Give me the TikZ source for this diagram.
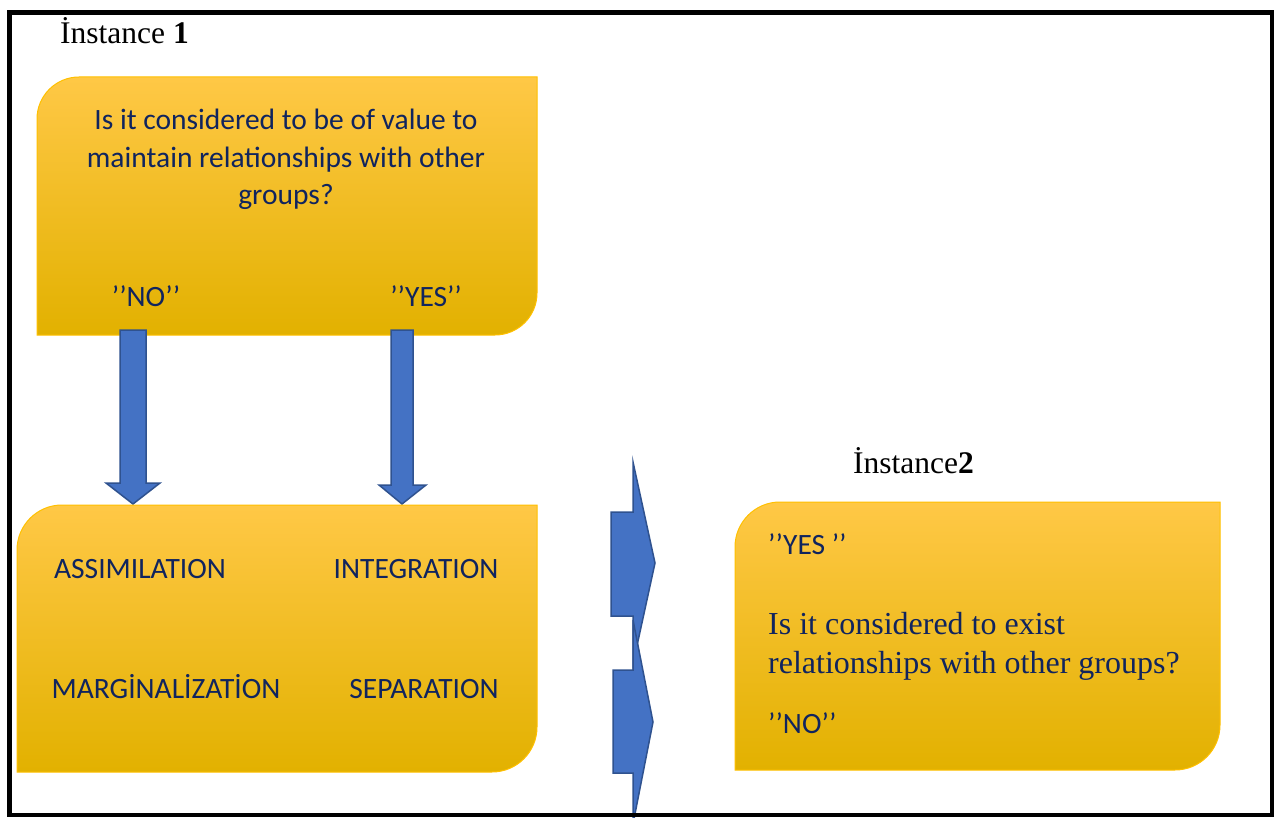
\documentclass[tikz,border=0pt]{standalone}
\usepackage{fontspec}
\setmainfont{Liberation Serif}
\newfontfamily\calfont{Carlito}
\definecolor{navy}{RGB}{16,36,94}
\definecolor{ytop}{RGB}{255,200,70}
\definecolor{ymid}{RGB}{255,192,0}
\definecolor{ybot}{RGB}{226,177,0}
\definecolor{yline}{RGB}{255,192,0}
\definecolor{bfill}{RGB}{68,114,196}
\definecolor{bline}{RGB}{47,82,143}
% box with rounded top-left and bottom-right corners: x1 y1 x2 y2 R
\newcommand{\offbox}[5]{(#1,#4) -- (#1,#2+#5) .. controls (#1,#2+0.448*#5) and (#1+0.448*#5,#2) .. (#1+#5,#2) -- (#3,#2) -- (#3,#4-#5) .. controls (#3,#4-0.448*#5) and (#3-0.448*#5,#4) .. (#3-#5,#4) -- cycle}
\tikzset{
  ybox/.style={top color=ytop, middle color=ymid, bottom color=ybot, draw=yline, line width=1pt},
  barrow/.style={fill=bfill, draw=bline, line width=1.5pt, line join=miter},
  sanstext/.style={font=\calfont\fontsize{29.5}{38}\selectfont, text=navy, inner sep=0pt, anchor=base},
  seriftext/.style={font=\fontsize{32}{39}\selectfont, text=navy, inner sep=0pt, anchor=base west},
  titletext/.style={font=\fontsize{31.5}{36}\selectfont, text=black, inner sep=0pt, anchor=base west},
}
\begin{document}
\begin{tikzpicture}[x=1pt,y=-1pt]
\useasboundingbox (0,0) rectangle (1277,818);
\clip (0,0) rectangle (1277,818);
\fill[white] (0,0) rectangle (1277,818);

% box 1
\path[ybox] \offbox{37}{77}{537}{335}{42};
\node[sanstext] (q1a) at (286,130) {Is it considered to be of value to};
\node[sanstext] (q1b) at (286,168) {maintain relationships with other};
\node[sanstext] (q1c) at (286,205) {groups?};
\node[sanstext] (no1) at (146,306) {’’NO’’};
\node[sanstext] (yes1) at (426,306) {’’YES’’};

% down arrows
\draw[barrow] (120,330) -- (146,330) -- (146,483) -- (160,483) -- (133,504) -- (106,483) -- (120,483) -- cycle;
\draw[barrow] (391,330) -- (413,330) -- (413,485) -- (426,485) -- (402,504) -- (379,485) -- (391,485) -- cycle;

% box 2
\path[ybox] \offbox{17}{505}{537}{772}{45};
\node[sanstext] (assim) at (140,578) {ASSIMILATION};
\node[sanstext] (integ) at (416,578) {INTEGRATION};
\node[sanstext] (margi) at (166,698) {MARGİNALİZATİON};
\node[sanstext] (separ) at (424,698) {SEPARATION};

% box 3
\path[ybox] \offbox{735}{502}{1220}{770}{45};
\node[sanstext, anchor=base west] (yes2) at (768,554) {’’YES ’’};
\node[seriftext] (q2a) at (768,634) {Is it considered to exist};
\node[seriftext] (q2b) at (768,673) {relationships with other groups?};
\node[sanstext, anchor=base west] (no2) at (768,733) {’’NO’’};

% middle chevron arrows
\draw[barrow] (611,512) -- (633,512) -- (633,462) -- (655,563) -- (633,664) -- (633,616) -- (611,616) -- cycle;
\draw[barrow] (613,670) -- (633,670) -- (633,620) -- (653,722) -- (633,824) -- (633,773) -- (613,773) -- cycle;

% titles
\node[titletext] (inst1) at (60,44) {İnstance \textbf{1}};
\node[titletext] (inst2) at (853,473) {İnstance\textbf{2}};

% outer frame
\draw[line width=4.5pt] (9.5,12.5) rectangle (1272,815);
\end{tikzpicture}
\end{document}
